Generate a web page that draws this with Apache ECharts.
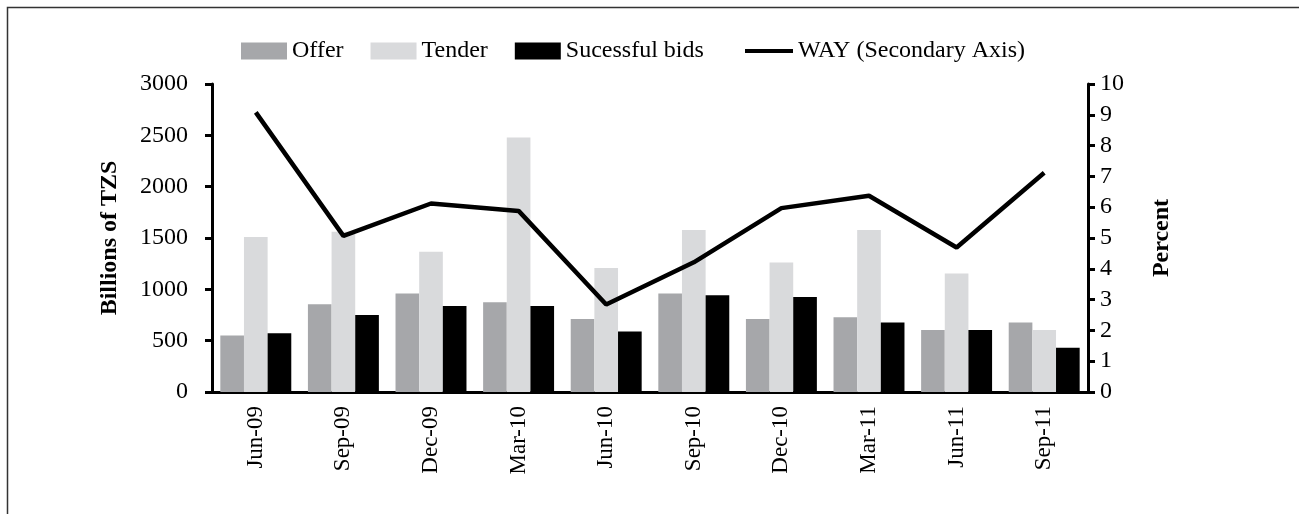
<!DOCTYPE html>
<html>
<head>
<meta charset="utf-8">
<script src="https://cdn.jsdelivr.net/npm/echarts@6/dist/echarts.min.js"></script>
<style>
  html, body { margin: 0; padding: 0; background: #fff; }
  #chart { width: 1299px; height: 514px; }
</style>
</head>
<body>
<div id="chart"></div>
<script>
// Auctions: amounts in billions of TZS, WAY in percent
const categories = ["Jun-09", "Sep-09", "Dec-09", "Mar-10", "Jun-10", "Sep-10", "Dec-10", "Mar-11", "Jun-11", "Sep-11"];
const offer = [550, 855, 960, 875, 712, 960, 712, 728, 605, 676];
const tender = [1510, 1560, 1366, 2480, 1207, 1579, 1262, 1579, 1155, 605];
const successful = [573, 751, 838, 838, 589, 942, 925, 676, 605, 430];
const way = [9.08, 5.07, 6.12, 5.88, 2.84, 4.21, 5.97, 6.37, 4.69, 7.12];

const FONT = "Liberation Serif";
const axisLine = { show: true, lineStyle: { color: "#000", width: 3 } };
const axisTick = { show: true, inside: false, length: 7, lineStyle: { color: "#000", width: 3 } };
const legendText = { fontFamily: FONT, fontSize: 24, color: "#000" };

const chart = echarts.init(document.getElementById("chart"));

chart.setOption({
  animation: false,
  textStyle: { fontFamily: FONT, color: "#000" },
  graphic: [{
    // outer frame (right and bottom fall outside the picture)
    type: "rect",
    shape: { x: 7.5, y: 7.5, width: 1400, height: 600 },
    style: { fill: "none", stroke: "#333", lineWidth: 1.5 },
    silent: true
  }],
  legend: [{
    top: 34,
    left: 236,
    icon: "rect",
    itemWidth: 46,
    itemHeight: 17,
    itemGap: 27,
    textStyle: legendText,
    data: ["Offer", "Tender", "Sucessful bids"]
  }, {
    top: 34,
    left: 740,
    icon: "rect",
    itemWidth: 48,
    itemHeight: 4,
    textStyle: legendText,
    data: ["WAY (Secondary Axis)"]
  }],
  grid: { left: 212, right: 211, top: 84, bottom: 122, containLabel: false },
  xAxis: {
    type: "category",
    data: categories,
    axisLine: axisLine,
    axisTick: { show: false },
    axisLabel: { rotate: 90, margin: 14, fontFamily: FONT, fontSize: 23, color: "#000" },
    splitLine: { show: false }
  },
  yAxis: [{
    type: "value",
    min: 0,
    max: 3000,
    interval: 500,
    name: "Billions of TZS",
    nameLocation: "middle",
    nameGap: 90,
    nameTextStyle: { fontFamily: FONT, fontSize: 24, fontWeight: "bold", color: "#000" },
    axisLine: axisLine,
    axisTick: axisTick,
    axisLabel: { margin: 24, fontFamily: FONT, fontSize: 24, color: "#000", formatter: (v) => String(v) },
    splitLine: { show: false }
  }, {
    type: "value",
    min: 0,
    max: 10,
    interval: 1,
    position: "right",
    name: "Percent",
    nameLocation: "middle",
    nameGap: 62,
    nameTextStyle: { fontFamily: FONT, fontSize: 24, fontWeight: "bold", color: "#000" },
    axisLine: axisLine,
    axisTick: axisTick,
    axisLabel: { margin: 12, fontFamily: FONT, fontSize: 24, color: "#000", formatter: (v) => String(v) },
    splitLine: { show: false }
  }],
  series: [{
    name: "Offer",
    type: "bar",
    data: offer,
    barGap: "0%",
    barCategoryGap: "19%",
    itemStyle: { color: "#a6a7aa" }
  }, {
    name: "Tender",
    type: "bar",
    data: tender,
    itemStyle: { color: "#d9dadc" }
  }, {
    name: "Sucessful bids",
    type: "bar",
    data: successful,
    itemStyle: { color: "#000" }
  }, {
    name: "WAY (Secondary Axis)",
    type: "line",
    yAxisIndex: 1,
    data: way,
    symbol: "none",
    lineStyle: { color: "#000", width: 4.5 },
    itemStyle: { color: "#000" },
    z: 5
  }]
});
</script>
</body>
</html>
